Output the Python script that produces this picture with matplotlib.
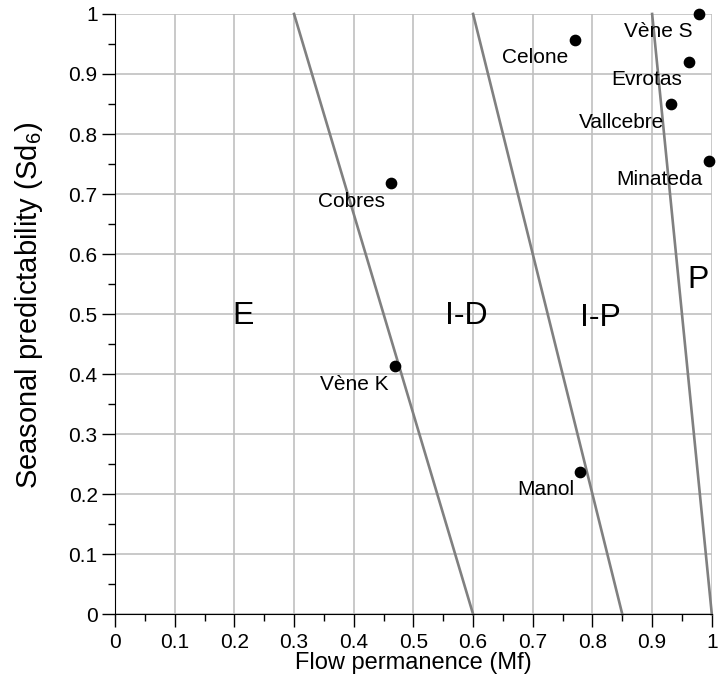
import matplotlib
matplotlib.use("Agg")
import matplotlib.pyplot as plt
from matplotlib.ticker import MultipleLocator, FuncFormatter

plt.rcParams['font.family'] = ['Liberation Sans', 'DejaVu Sans']
plt.rcParams['mathtext.default'] = 'regular'

# sites: flow permanence (Mf) vs seasonal predictability (Sd6)
sites = ['Vène S', 'Celone', 'Evrotas', 'Vallcebre', 'Minateda', 'Cobres', 'Vène K', 'Manol']
mf = [0.978, 0.770, 0.961, 0.931, 0.995, 0.462, 0.469, 0.779]
sd6 = [1.000, 0.957, 0.920, 0.850, 0.755, 0.718, 0.413, 0.237]

# regime boundaries: x at Sd6 = 1 and x at Sd6 = 0
bound_top = [0.3, 0.6, 0.9]
bound_bottom = [0.6, 0.85, 1.0]

zones = ['E', 'I-D', 'I-P', 'P']
zone_x = [0.214, 0.588, 0.814, 0.977]
zone_y = [0.497, 0.497, 0.493, 0.557]

fig = plt.figure(figsize=(7.19, 6.98), dpi=100)
ax = fig.add_axes([0.16, 0.12, 0.83, 0.86])

ax.set_xlim(0, 1)
ax.set_ylim(0, 1)
ax.xaxis.set_major_locator(MultipleLocator(0.1))
ax.yaxis.set_major_locator(MultipleLocator(0.1))
ax.xaxis.set_minor_locator(MultipleLocator(0.05))
ax.yaxis.set_minor_locator(MultipleLocator(0.05))
fmt = FuncFormatter(lambda v, _: f'{round(v, 2):g}')
ax.xaxis.set_major_formatter(fmt)
ax.yaxis.set_major_formatter(fmt)
ax.grid(True, which='major', color='#c0c0c0', linewidth=1.2, zorder=0)
ax.set_axisbelow(True)

for t, b in zip(bound_top, bound_bottom):
    ax.plot([t, b], [1, 0], color='#808080', linewidth=1.9, zorder=2, clip_on=False)

ax.scatter(mf, sd6, s=55, color='black', zorder=3, clip_on=False)
for name, x, y in zip(sites, mf, sd6):
    ax.annotate(name, (x, y), xytext=(-6, -18), textcoords='offset pixels',
                ha='right', va='center', fontsize=15)

for z, x, y in zip(zones, zone_x, zone_y):
    ax.text(x, y, z, ha='center', va='center', fontsize=23)

ax.spines['top'].set_visible(False)
ax.spines['right'].set_visible(False)
ax.tick_params(which='major', direction='out', length=9.5, width=1, labelsize=15)
ax.tick_params(which='minor', direction='out', length=5, width=1)
ax.tick_params(axis='x', which='major', pad=4)
ax.tick_params(axis='y', which='major', pad=3)

ax.set_xlabel('Flow permanence (Mf)', fontsize=17, labelpad=0)
ax.set_ylabel('Seasonal predictability (Sd$_6$)', fontsize=21)
ax.yaxis.set_label_coords(-0.118, 0.515)

fig.savefig('out.png', dpi=100)
